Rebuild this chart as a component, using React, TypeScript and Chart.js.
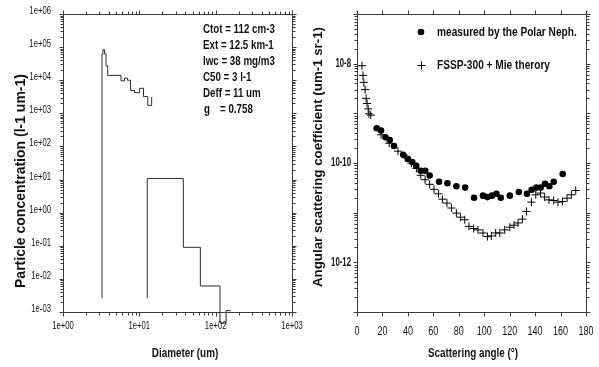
import React, { useEffect, useRef } from 'react';
import { Chart, registerables } from 'chart.js';
Chart.register(...registerables);

// ---------- Left panel: particle size distribution (step histogram) ----------
const fsspDiameter = [3.24, 3.24, 3.33, 3.5, 3.66, 3.85, 5.75, 6.4, 7.0, 7.67, 8.65, 10.06, 11.35, 12.9, 14.5];
const fsspConc = [2.6e-3, 6.0e4, 8.3e4, 6.3e4, 2.7e4, 1.4e4, 9.6e3, 1.16e4, 1.0e4, 4.9e3, 4.2e3, 5.7e3, 3.2e3, 1.74e3, 3.1e3];
const probeDiameter = [12.7, 12.7, 37.7, 63, 114, 137, 158];
const probeConc = [2.6e-3, 10.8, 0.09, 6.1e-3, 4.6e-4, 1.1e-3, 1.1e-3];

const diamTicks = [1, 10, 100, 1000];
const diamTickLabels = ['1e+00', '1e+01', '1e+02', '1e+03'];
const concTicks = [1e-3, 1e-2, 1e-1, 1, 10, 100, 1e3, 1e4, 1e5, 1e6];
const concTickLabels = ['1e-03', '1e-02', '1e-01', '1e+00', '1e+01', '1e+02', '1e+03', '1e+04', '1e+05', '1e+06'];

const statsLabels = ['Ctot', 'Ext', 'lwc', 'C50', 'Deff', 'g'];
const statsValues = ['= 112 cm-3', '= 12.5 km-1', '= 38 mg/m3', '= 3 l-1', '= 11 um', '= 0.758'];

// ---------- Right panel: angular scattering coefficient ----------
const measuredAngle = [15.5, 18.9, 22.4, 25.7, 29.1, 36.3, 39.9, 43.4, 46.5, 50.1, 53.6, 57.1, 64.5, 71.1, 78.1, 85.0, 92.0, 99.0, 102.5, 106.1, 109.6, 113.0, 120.1, 127.2, 133.6, 137.3, 141.0, 144.4, 147.8, 151.2, 154.6, 161.7];
const measuredCoef = [5.0e-10, 4.5e-10, 3.3e-10, 2.9e-10, 2.2e-10, 1.46e-10, 1.21e-10, 1.05e-10, 8.8e-11, 7.0e-11, 7.0e-11, 5.6e-11, 4.2e-11, 3.9e-11, 3.4e-11, 3.2e-11, 2.0e-11, 2.2e-11, 2.06e-11, 2.2e-11, 2.4e-11, 2.0e-11, 2.2e-11, 2.6e-11, 2.4e-11, 2.9e-11, 3.2e-11, 3.2e-11, 3.8e-11, 3.4e-11, 4.2e-11, 6.0e-11];
const theoryAngle = [3.9, 4.7, 5.3, 6.4, 7.2, 7.9, 8.8, 9.4, 10.8, 18.9, 25.3, 32.2, 39.1, 42.8, 46.7, 50.1, 53.5, 57.1, 60.5, 64.0, 67.1, 70.7, 74.2, 78.1, 81.3, 84.7, 88.0, 91.7, 95.1, 99.0, 102.5, 105.6, 109.0, 112.2, 116.1, 120.1, 123.4, 126.6, 130.0, 133.2, 137.1, 140.5, 144.2, 147.5, 150.9, 154.6, 158.0, 161.5, 165.1, 168.5, 171.9];
const theoryCoef = [9.1e-9, 5.8e-9, 4.2e-9, 3.0e-9, 2.0e-9, 1.58e-9, 1.23e-9, 9.8e-10, 9.2e-10, 3.7e-10, 2.5e-10, 1.73e-10, 1.27e-10, 9.9e-11, 7.8e-11, 5.65e-11, 4.6e-11, 3.72e-11, 2.95e-11, 2.4e-11, 1.87e-11, 1.56e-11, 1.24e-11, 9.8e-12, 8.1e-12, 7.2e-12, 5.3e-12, 4.8e-12, 4.5e-12, 3.9e-12, 3.3e-12, 3.4e-12, 3.9e-12, 3.9e-12, 4.5e-12, 5.1e-12, 5.6e-12, 6.2e-12, 7.4e-12, 1.06e-11, 1.63e-11, 2.29e-11, 2.48e-11, 2.06e-11, 1.81e-11, 1.76e-11, 1.63e-11, 1.68e-11, 1.96e-11, 2.29e-11, 2.79e-11];

const angleTicks = [0, 20, 40, 60, 80, 100, 120, 140, 160, 180];
const angleTickLabels = ['0', '20', '40', '60', '80', '100', '120', '140', '160', '180'];
const scatTicks = [1e-13, 1e-12, 1e-11, 1e-10, 1e-9, 1e-8, 1e-7];
const scatTickLabels = ['', '10-12', '', '10-10', '', '10-8', ''];

const legendLabels = ['measured by the Polar Neph.', 'FSSP-300 + Mie therory'];

const FAMILY = '"Liberation Sans", Arial, "DejaVu Sans", sans-serif';
const W = 599;
const H = 367;
const INK = '#111';

function toPoints(xs: number[], ys: number[]) {
  return xs.map((x, i) => ({ x, y: ys[i] }));
}

function logMinors(majors: number[]) {
  const out: number[] = [];
  for (let i = 0; i < majors.length - 1; i++) {
    for (let k = 2; k <= 9; k++) out.push(majors[i] * k);
  }
  return out;
}

type TextOpts = { size: number; bold?: boolean; sx?: number; align?: CanvasTextAlign; rotate?: boolean };

function txt(ctx: CanvasRenderingContext2D, s: string, x: number, y: number, o: TextOpts) {
  ctx.save();
  ctx.translate(x, y);
  if (o.rotate) ctx.rotate(-Math.PI / 2);
  ctx.scale(o.sx ?? 1, 1);
  ctx.font = `${o.bold ? 'bold ' : ''}${o.size}px ${FAMILY}`;
  ctx.fillStyle = INK;
  ctx.textAlign = o.align ?? 'left';
  ctx.textBaseline = 'middle';
  ctx.fillText(s, 0, 0);
  ctx.restore();
}

type AxisTickSpec = { majors: number[]; minors: number[] };

function framePlugin(xs: AxisTickSpec, ys: AxisTickSpec) {
  return {
    id: 'frameTicks',
    afterDraw(chart: any) {
      const { ctx, chartArea: a, scales } = chart;
      const L = Math.round(a.left) + 0.5;
      const R = Math.round(a.right) + 0.5;
      const T = Math.round(a.top) + 0.5;
      const B = Math.round(a.bottom) + 0.5;
      ctx.save();
      ctx.strokeStyle = '#3a3a3a';
      ctx.lineWidth = 1;
      ctx.beginPath();
      ctx.rect(L, T, R - L, B - T);
      ctx.stroke();
      ctx.beginPath();
      const drawX = (v: number, len: number) => {
        const p = Math.round(scales.x.getPixelForValue(v)) + 0.5;
        ctx.moveTo(p, B);
        ctx.lineTo(p, B + len);
        ctx.moveTo(p, T);
        ctx.lineTo(p, T - len);
      };
      const drawY = (v: number, len: number) => {
        const p = Math.round(scales.y.getPixelForValue(v)) + 0.5;
        ctx.moveTo(L, p);
        ctx.lineTo(L - len, p);
        ctx.moveTo(R, p);
        ctx.lineTo(R + len, p);
      };
      xs.majors.forEach((v) => drawX(v, 4));
      xs.minors.forEach((v) => drawX(v, 3));
      ys.majors.forEach((v) => drawY(v, 4));
      ys.minors.forEach((v) => drawY(v, 3));
      ctx.stroke();
      ctx.restore();
    },
  };
}

function textPlugin(draw: (ctx: CanvasRenderingContext2D, chart: any) => void) {
  return {
    id: 'texts',
    afterDraw(chart: any) {
      draw(chart.ctx as CanvasRenderingContext2D, chart);
    },
  };
}

function hiddenAxis(extra: any) {
  return {
    grid: { display: false, drawTicks: false },
    border: { display: false },
    ticks: { display: false, autoSkip: false },
    ...extra,
  };
}

function leftConfig(): any {
  const line = {
    stepped: 'before',
    borderColor: '#2a2a2a',
    borderWidth: 1,
    pointRadius: 0,
    fill: false,
    clip: false,
  };
  return {
    type: 'line',
    data: {
      datasets: [
        { ...line, data: toPoints(fsspDiameter, fsspConc) },
        { ...line, data: toPoints(probeDiameter, probeConc) },
      ],
    },
    options: {
      responsive: false,
      animation: false,
      devicePixelRatio: 1,
      layout: { padding: { left: 0, top: 14, right: W - 292, bottom: 0 } },
      plugins: { legend: { display: false }, tooltip: { enabled: false } },
      scales: {
        x: hiddenAxis({
          type: 'logarithmic',
          min: 1,
          max: 1000,
          afterFit: (s: any) => {
            s.height = H - 312;
          },
        }),
        y: hiddenAxis({
          type: 'logarithmic',
          min: 1e-3,
          max: 1e6,
          afterFit: (s: any) => {
            s.width = 63;
          },
        }),
      },
    },
    plugins: [
      framePlugin(
        { majors: diamTicks, minors: logMinors(diamTicks) },
        { majors: concTicks, minors: logMinors(concTicks) }
      ),
      textPlugin((ctx, chart) => {
        const a = chart.chartArea;
        const { x, y } = chart.scales;
        diamTicks.forEach((v, i) =>
          txt(ctx, diamTickLabels[i], x.getPixelForValue(v), 326, { size: 11, sx: 0.7, align: 'center' })
        );
        concTicks.forEach((v, i) =>
          txt(ctx, concTickLabels[i], 51, y.getPixelForValue(v) - 3, { size: 11, sx: 0.7, align: 'right' })
        );
        statsLabels.forEach((lab, i) => {
          const yy = 29 + i * 16;
          if (lab === 'g') {
            txt(ctx, lab, a.left + 141, yy, { size: 13, bold: true, sx: 0.75 });
            txt(ctx, statsValues[i], a.left + 157, yy, { size: 13, bold: true, sx: 0.75 });
          } else {
            txt(ctx, `${lab} ${statsValues[i]}`, a.left + 140, yy, { size: 13, bold: true, sx: 0.75 });
          }
        });
        txt(ctx, 'Diameter (um)', 185, 353, { size: 13, bold: true, sx: 0.76, align: 'center' });
        txt(ctx, 'Particle concentration (l-1 um-1)', 21, 181, { size: 14, bold: true, align: 'center', rotate: true });
      }),
    ],
  };
}

function rightConfig(): any {
  return {
    type: 'scatter',
    data: {
      datasets: [
        {
          data: toPoints(measuredAngle, measuredCoef),
          pointStyle: 'circle',
          pointRadius: 3.3,
          backgroundColor: '#000',
          borderColor: '#000',
          borderWidth: 0,
        },
        {
          data: toPoints(theoryAngle, theoryCoef),
          pointStyle: 'cross',
          pointRadius: 4,
          backgroundColor: '#000',
          borderColor: '#000',
          borderWidth: 1,
        },
      ],
    },
    options: {
      responsive: false,
      animation: false,
      devicePixelRatio: 1,
      layout: { padding: { left: 300, top: 14, right: W - 586, bottom: 0 } },
      plugins: { legend: { display: false }, tooltip: { enabled: false } },
      scales: {
        x: hiddenAxis({
          type: 'linear',
          min: 0,
          max: 180,
          afterFit: (s: any) => {
            s.height = H - 312;
          },
        }),
        y: hiddenAxis({
          type: 'logarithmic',
          min: 1e-13,
          max: 1e-7,
          afterFit: (s: any) => {
            s.width = 57;
          },
        }),
      },
    },
    plugins: [
      framePlugin(
        { majors: angleTicks, minors: [] },
        { majors: scatTicks, minors: logMinors(scatTicks) }
      ),
      textPlugin((ctx, chart) => {
        const a = chart.chartArea;
        const { x, y } = chart.scales;
        angleTicks.forEach((v, i) =>
          txt(ctx, angleTickLabels[i], x.getPixelForValue(v), 332, { size: 12, sx: 0.75, align: 'center' })
        );
        scatTicks.forEach((v, i) => {
          if (scatTickLabels[i])
            txt(ctx, scatTickLabels[i], 351, y.getPixelForValue(v), { size: 12, bold: true, sx: 0.65, align: 'right' });
        });
        // legend
        ctx.save();
        ctx.fillStyle = '#000';
        ctx.strokeStyle = '#000';
        ctx.beginPath();
        ctx.arc(a.left + 64, 32, 3.3, 0, Math.PI * 2);
        ctx.fill();
        ctx.lineWidth = 1;
        ctx.beginPath();
        const cx = a.left + 64.5;
        const cy = 65.5;
        ctx.moveTo(cx - 4, cy);
        ctx.lineTo(cx + 4, cy);
        ctx.moveTo(cx, cy - 4);
        ctx.lineTo(cx, cy + 4);
        ctx.stroke();
        ctx.restore();
        txt(ctx, legendLabels[0], a.left + 80, 32, { size: 13, bold: true, sx: 0.78 });
        txt(ctx, legendLabels[1], a.left + 80, 65, { size: 13, bold: true, sx: 0.78 });
        txt(ctx, 'Scattering angle (\u00b0)', 473, 353, { size: 13, bold: true, sx: 0.76, align: 'center' });
        txt(ctx, 'Angular scattering coefficient (um-1 sr-1)', 318, 157, { size: 13.3, bold: true, align: 'center', rotate: true });
      }),
    ],
  };
}

export default function App() {
  const leftRef = useRef<HTMLCanvasElement>(null);
  const rightRef = useRef<HTMLCanvasElement>(null);
  useEffect(() => {
    const c1 = new Chart(leftRef.current as HTMLCanvasElement, leftConfig());
    const c2 = new Chart(rightRef.current as HTMLCanvasElement, rightConfig());
    return () => {
      c1.destroy();
      c2.destroy();
    };
  }, []);
  const cs: React.CSSProperties = { position: 'absolute', left: 0, top: 0, width: W, height: H };
  return (
    <div style={{ position: 'fixed', left: 0, top: 0, width: W, height: H, background: '#fff' }}>
      <canvas ref={leftRef} width={W} height={H} style={cs} />
      <canvas ref={rightRef} width={W} height={H} style={cs} />
    </div>
  );
}
